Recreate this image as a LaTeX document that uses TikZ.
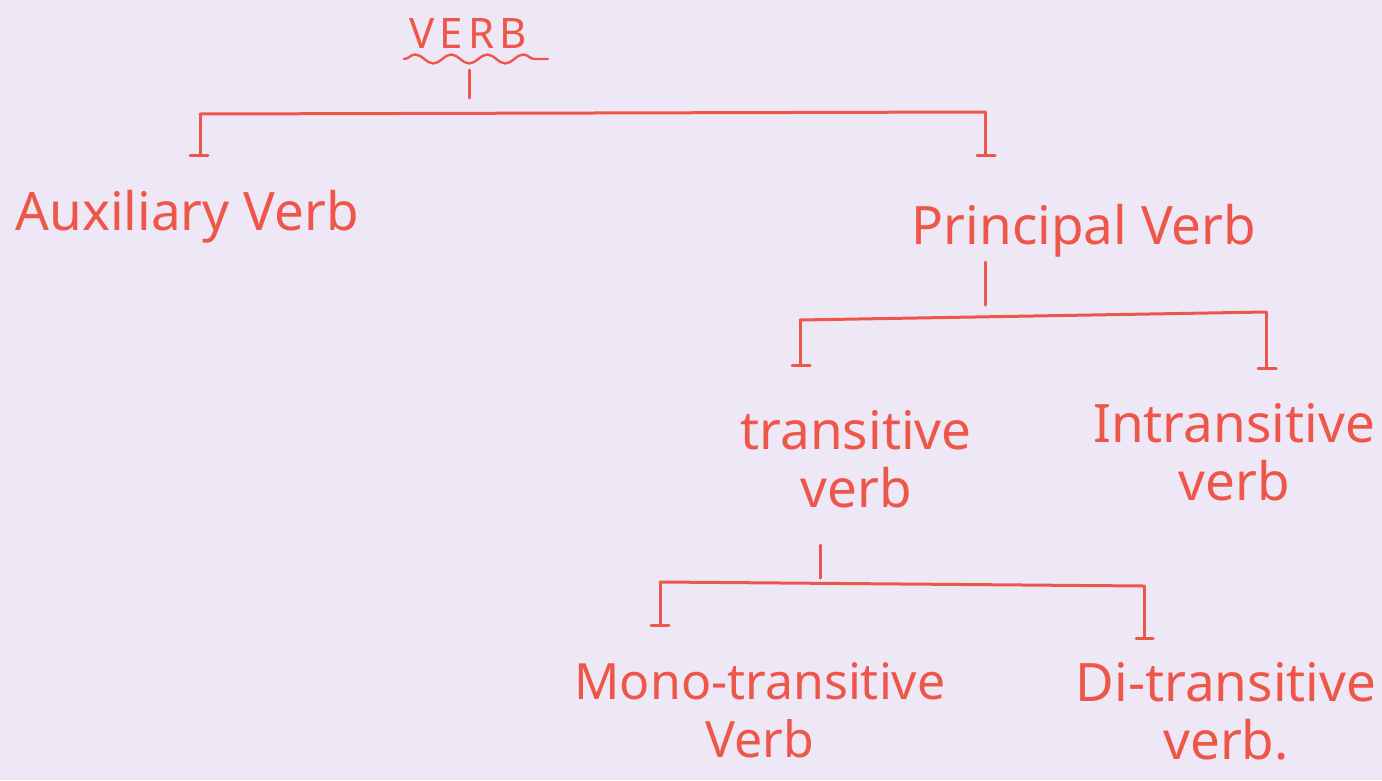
\documentclass[tikz,border=0pt]{standalone}
\usepackage{fontspec}
\setmainfont{Noto Sans}
\usetikzlibrary{decorations.pathmorphing}
\definecolor{paper}{RGB}{238,232,246}
\definecolor{ink}{RGB}{238,86,74}
\begin{document}
\begin{tikzpicture}[x=1pt,y=-1pt,
  label/.style={text=ink,inner sep=0pt,align=center,
    font=\fontsize{53}{58}\selectfont},
  wire/.style={draw=ink,line width=3pt,line cap=round,line join=round},
  foot/.style={wire}]
\useasboundingbox (0,0) rectangle (1382,780);
\fill[paper] (0,0) rectangle (1382,780);

% labels
\node[label,anchor=base,font=\addfontfeatures{LetterSpace=12}\fontsize{42}{46}\selectfont] (verb) at (468,48) {VERB};
\node[label,anchor=base] (aux) at (187,230) {Auxiliary Verb};
\node[label,anchor=base] (prin) at (1084,244) {Principal Verb};
\node[label,anchor=north] (trans) at (856,410) {transitive\\verb};
\node[label,anchor=north] (intr) at (1234,403) {Intransitive\\verb};
\node[label,anchor=north,font=\fontsize{50}{58}\selectfont] (mono) at (760,662) {Mono-transitive\\Verb};
\node[label,anchor=north] (di) at (1226,662) {Di-transitive\\verb.};

% wavy underline of the root
\draw[wire,line width=2.4pt,decorate,decoration={snake,segment length=36pt,amplitude=4.5pt}]
  (404,59) -- (548,59);

% junction points
\coordinate (r0) at (469,70);   \coordinate (r1) at (469,98);
\coordinate (rl) at (200,114);  \coordinate (rr) at (985,112);
\coordinate (p0) at (985,262);  \coordinate (p1) at (985,305);
\coordinate (pl) at (800,320);  \coordinate (pr) at (1266,312);
\coordinate (t0) at (820,545);  \coordinate (t1) at (820,578);
\coordinate (tl) at (660,582);  \coordinate (tr) at (1144,586);

% VERB branches
\draw[wire] (r0) -- (r1);
\draw[wire] (rl) -- (rr);
\draw[wire] (rl) -- ++(0,41) coordinate (al);
\draw[foot] ([xshift=-10pt]al) -- ([xshift=8pt]al);
\draw[wire] (rr) -- ++(0,43) coordinate (ar);
\draw[foot] ([xshift=-8pt]ar) -- ([xshift=10pt]ar);

% Principal Verb branches
\draw[wire] (p0) -- (p1);
\draw[wire] (pl) -- (pr);
\draw[wire] (pl) -- ++(0,45) coordinate (bl);
\draw[foot] ([xshift=-8pt]bl) -- ([xshift=10pt]bl);
\draw[wire] (pr) -- ++(0,56) coordinate (br);
\draw[foot] ([xshift=-8pt]br) -- ([xshift=10pt]br);

% transitive verb branches
\draw[wire] (t0) -- (t1);
\draw[wire] (tl) -- (tr);
\draw[wire] (tl) -- ++(0,43) coordinate (cl);
\draw[foot] ([xshift=-9pt]cl) -- ([xshift=9pt]cl);
\draw[wire] (tr) -- ++(0,52) coordinate (cr);
\draw[foot] ([xshift=-8pt]cr) -- ([xshift=9pt]cr);
\end{tikzpicture}
\end{document}
